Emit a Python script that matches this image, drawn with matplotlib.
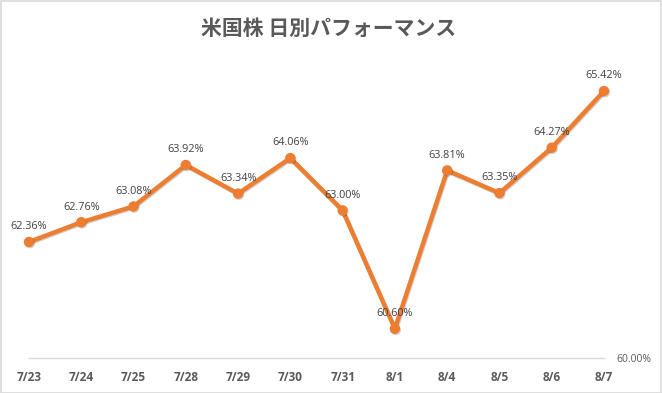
import matplotlib
matplotlib.use("Agg")
import matplotlib.pyplot as plt
from matplotlib.patches import Rectangle
import matplotlib.patheffects as pe

dates = ["7/23", "7/24", "7/25", "7/28", "7/29", "7/30", "7/31", "8/1", "8/4", "8/5", "8/6", "8/7"]
values = [62.36, 62.76, 63.08, 63.92, 63.34, 64.06, 63.00, 60.60, 63.81, 63.35, 64.27, 65.42]
title = "米国株 日別パフォーマンス"

plt.rcParams['font.family'] = ['Open Sans', 'DejaVu Sans']

fig = plt.figure(figsize=(6.62, 3.93), dpi=100)
ax = fig.add_axes([29/662, (393-358.4)/393, 575/662, (358.4-62.4)/393])

x = list(range(len(values)))
ax.plot(x, values, color="#ED7D31", lw=3.2, marker="o", markersize=6.5,
        solid_joinstyle="round", zorder=3, clip_on=False,
        path_effects=[pe.SimpleLineShadow(offset=(0.6, -0.8), shadow_color="#000000", alpha=0.18),
                      pe.Normal()])

for xi, v in zip(x, values):
    ax.annotate(f"{v:.2f}%", (xi, v), xytext=(0, 7), textcoords="offset points",
                ha="center", va="bottom", fontsize=7.8, color="#404040", zorder=4)

ax.set_xlim(0, len(values) - 1)
ax.set_ylim(60, 66)
ax.set_xticks(x)
ax.set_xticklabels(dates, fontsize=8.5, fontweight="bold", color="#595959")
ax.yaxis.tick_right()
ax.set_yticks([60])
ax.set_yticklabels(["60.00%"], fontsize=7.5, color="#595959")
ax.tick_params(axis="x", length=0, pad=9)
ax.tick_params(axis="y", length=0, pad=9)
for s in ax.spines.values():
    s.set_visible(False)
ax.axhline(60, color="#D9D9D9", lw=1, zorder=1, clip_on=False)

fig.text(0.497, 1 - 28/393, title, ha="center", va="center", fontsize=15,
         fontweight="bold", color="#595959", family=["Noto Sans CJK JP", "DejaVu Sans"])

fig.patches.append(Rectangle((0.001, 0.001), 0.997, 0.997, transform=fig.transFigure,
                             fill=False, edgecolor="#D9D9D9", lw=1.2))

fig.savefig("out.png", dpi=100)
